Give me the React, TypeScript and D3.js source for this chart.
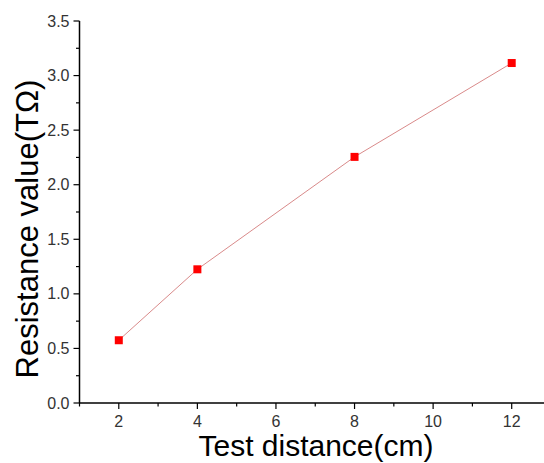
import * as d3 from "d3";

const distances = [2, 4, 8, 12];
const resistance = [0.575, 1.225, 2.255, 3.115];
const xTickValues = [2, 4, 6, 8, 10, 12];
const yTickValues = [0, 0.5, 1, 1.5, 2, 2.5, 3, 3.5];

const width = 544;
const height = 463;
const font = "'Liberation Sans', Arial, sans-serif";

export default function App() {
  const x = d3.scaleLinear().domain([1, 13]).range([79.5, 551]);
  const y = d3.scaleLinear().domain([0, 3.5]).range([403, 21]);

  const xMinor = d3.range(1, 13.01, 1).filter((v) => v % 2 !== 0);
  const yMinor = d3.range(0.25, 3.5, 0.5);

  const line = d3
    .line<number>()
    .x((_, i) => x(distances[i]))
    .y((d) => y(d));

  const x0 = x(1);
  const y0 = y(0);

  return (
    <svg
      width={width}
      height={height}
      style={{ position: "absolute", left: 0, top: 0, background: "#fff" }}
    >
      {/* axes */}
      <line x1={x0} x2={width} y1={y0} y2={y0} stroke="#000" strokeWidth={1.5} />
      <line x1={x0} x2={x0} y1={y0} y2={y(3.5)} stroke="#000" strokeWidth={1.5} />

      {xTickValues.map((t) => (
        <g key={"xt" + t}>
          <line x1={x(t)} x2={x(t)} y1={y0} y2={y0 + 6} stroke="#000" strokeWidth={1.2} />
          <text
            x={x(t)}
            y={y0 + 24}
            textAnchor="middle"
            fontFamily={font}
            fontSize={16}
            fill="#333"
          >
            {t}
          </text>
        </g>
      ))}
      {xMinor.map((t) => (
        <line key={"xm" + t} x1={x(t)} x2={x(t)} y1={y0} y2={y0 + 3.5} stroke="#000" strokeWidth={1.2} />
      ))}

      {yTickValues.map((t) => (
        <g key={"yt" + t}>
          <line x1={x0 - 6} x2={x0} y1={y(t)} y2={y(t)} stroke="#000" strokeWidth={1.2} />
          <text
            x={x0 - 10}
            y={y(t)}
            dy="0.35em"
            textAnchor="end"
            fontFamily={font}
            fontSize={16}
            fill="#333"
          >
            {t.toFixed(1)}
          </text>
        </g>
      ))}
      {yMinor.map((t) => (
        <line key={"ym" + t} x1={x0 - 3.5} x2={x0} y1={y(t)} y2={y(t)} stroke="#000" strokeWidth={1.2} />
      ))}

      {/* data */}
      <path d={line(resistance) ?? ""} fill="none" stroke="#d98a8a" strokeWidth={1} />
      {resistance.map((v, i) => (
        <rect
          key={"p" + i}
          x={x(distances[i]) - 4}
          y={y(v) - 4}
          width={8}
          height={8}
          fill="#ff0000"
        />
      ))}

      {/* titles */}
      <text
        x={316}
        y={456}
        textAnchor="middle"
        fontFamily={font}
        fontSize={30}
        fill="#000"
      >
        Test distance(cm)
      </text>
      <text
        transform={`translate(38, ${229}) rotate(-90)`}
        textAnchor="middle"
        fontFamily={font}
        fontSize={31}
        fill="#000"
      >
        Resistance value(TΩ)
      </text>
    </svg>
  );
}
